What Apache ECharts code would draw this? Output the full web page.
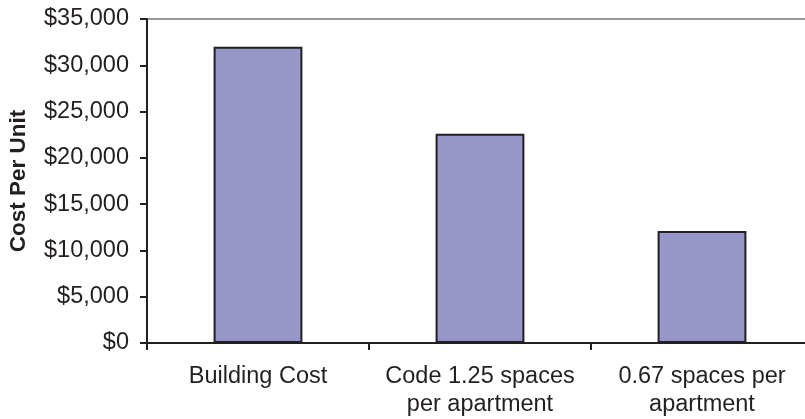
<!DOCTYPE html>
<html><head><meta charset="utf-8">
<script src="https://cdn.jsdelivr.net/npm/echarts@6/dist/echarts.min.js"></script>
<style>html,body{margin:0;padding:0;background:#fff}#c{width:805px;height:419px}</style>
</head><body><div id="c"></div>
<script>
const categories = ["Building Cost", "Code 1.25 spaces\nper apartment", "0.67 spaces per\napartment"];
const costPerUnit = [32000, 22600, 12100];
const yTitle = "Cost Per Unit";

const chart = echarts.init(document.getElementById('c'));
chart.setOption({
  animation: false,
  grid: { left: 147, width: 666, top: 19, height: 324, show: true, borderColor: '#999', borderWidth: 2,
          outerBoundsMode: 'none', containLabel: false },
  xAxis: {
    type: 'category', data: categories,
    axisLine: { lineStyle: { color: '#231f20', width: 2 } },
    axisTick: { show: true, length: 7, lineStyle: { color: '#231f20', width: 2 } },
    axisLabel: { interval: 0, hideOverlap: false, color: '#231f20', fontFamily: 'Liberation Sans, Arial', fontSize: 23.5, margin: 20, lineHeight: 28 }
  },
  yAxis: {
    type: 'value', min: 0, max: 35000, interval: 5000,
    name: yTitle, nameLocation: 'middle', nameGap: 117, nameRotate: 90,
    nameTextStyle: { color: '#231f20', fontFamily: 'Liberation Sans, Arial', fontSize: 22.5, fontWeight: 'bold' },
    axisLine: { show: true, lineStyle: { color: '#231f20', width: 2 } },
    axisTick: { show: true, inside: false, length: 7, lineStyle: { color: '#231f20', width: 2 } },
    splitLine: { show: false },
    axisLabel: { color: '#231f20', fontFamily: 'Liberation Sans, Arial', fontSize: 23.5, margin: 18,
      formatter: v => '$' + v.toLocaleString('en-US') }
  },
  series: [{
    type: 'bar', data: costPerUnit, barWidth: '40%',
    itemStyle: { color: '#9696c8', borderColor: '#231f20', borderWidth: 2 }
  }]
});
</script></body></html>
